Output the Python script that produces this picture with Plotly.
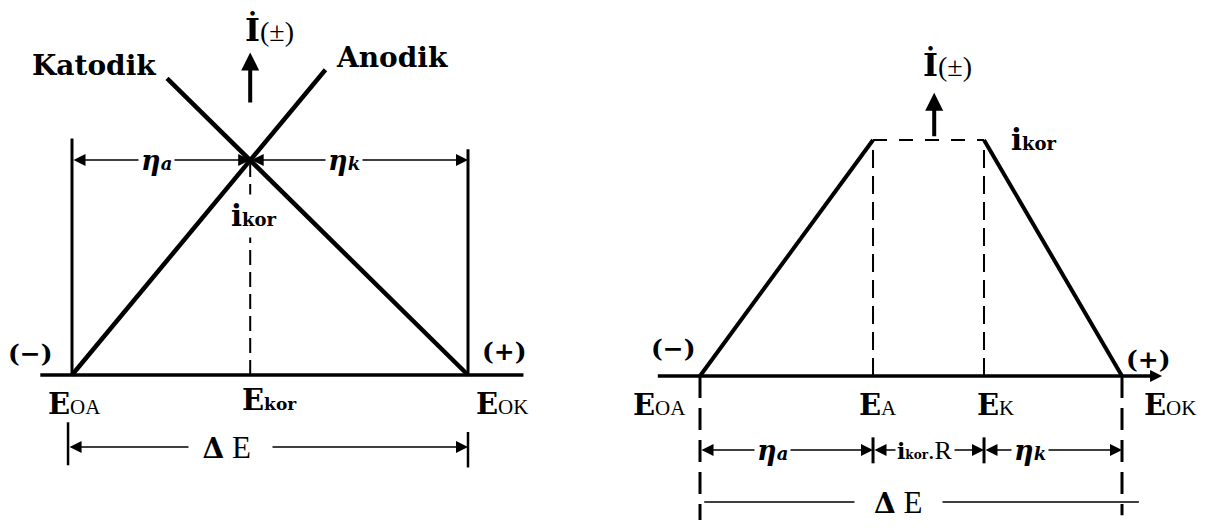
import plotly.graph_objects as go

# ---------------- data (arbitrary units) ----------------
# Left diagram: potential scaled so that E_OA = 0 and E_OK = 100, current in units of i_kor
left_E_names = ["E_OA", "E_kor", "E_OK"]
left_E = [0, 45, 100]
left_i_kor = 1.0
left_anodic_E = [0, 64]
left_anodic_i = [0, 1.42]
left_cathodic_E = [100, 24]
left_cathodic_i = [0, 1.38]
left_axis_E = [-8, 114]
left_bar_i = [1.10, 1.05]          # heights of the limit lines at E_OA and E_OK
left_eta_i = 1.0                    # level of the eta dimension line
left_dE_i = -0.335                  # level of the Delta E dimension line
left_dE_tick_i = [[-0.22, -0.42], [-0.265, -0.43]]
left_current_arrow_i = [1.26, 1.50]

# Right diagram: potential scaled so that E_OA = 0 and E_OK = 100, current in units of i_kor
right_E_names = ["E_OA", "E_A", "E_K", "E_OK"]
right_E = [0, 41, 67.3, 100]
right_i_kor = 1.0
right_axis_E = [-10, 109.5]
right_drop_i = [-0.64, -0.59]       # dashed extensions below the axis at E_OA and E_OK
right_eta_i = -0.314
right_eta_tick_i = [-0.26, -0.37]
right_dE_i = -0.534
right_dE_end_E = 104
right_current_arrow_E = 55.5
right_current_arrow_i = [1.01, 1.20]

# ---------------- figure geometry ----------------
W, H, OFF = 1205, 512, 8            # body margin of the html page is 8 px


def rng(p0, scale, lo_px, hi_px):
    """axis range so that a data value v sits at page pixel p0 + scale*v"""
    return [(lo_px - p0) / scale, (hi_px - p0) / scale]


LX = rng(72, 3.96, OFF, OFF + W)
LY = rng(375, -215, OFF + H, OFF)
RX = rng(700, 4.22, OFF, OFF + W)
RY = rng(376, -236, OFF + H, OFF)

FONT = "Liberation Serif, Times New Roman, DejaVu Serif, serif"
fig = go.Figure()


def seg(xs, ys, w=3, dash=None, side="L"):
    ax = dict(xaxis="x", yaxis="y") if side == "L" else dict(xaxis="x2", yaxis="y2")
    fig.add_trace(go.Scatter(x=xs, y=ys, mode="lines", hoverinfo="skip", showlegend=False,
                             line=dict(color="black", width=w, dash=dash), **ax))


anns = []


def arrow(side, x0, y0, x1, y1, w=1.5, size=1.6, both=True, head=2):
    xr, yr = ("x", "y") if side == "L" else ("x2", "y2")
    anns.append(dict(xref=xr, yref=yr, axref=xr, ayref=yr, x=x1, y=y1, ax=x0, ay=y0,
                     text="", showarrow=True, arrowhead=head, startarrowhead=head,
                     arrowside="end+start" if both else "end",
                     arrowwidth=w, arrowsize=size, startarrowsize=size,
                     arrowcolor="black", standoff=0, startstandoff=0))


def label(side, x, y, text, size=30, xs=0, ys=0, bg=None, pad=1, xanchor="center"):
    xr, yr = ("x", "y") if side == "L" else ("x2", "y2")
    d = dict(xref=xr, yref=yr, x=x, y=y, xshift=xs, yshift=ys, text=text, showarrow=False,
             font=dict(family=FONT, size=size, color="black"), xanchor=xanchor, yanchor="middle")
    if bg:
        d.update(bgcolor=bg, borderpad=pad)
    anns.append(d)


def B(t, s, italic=False):
    """bold serif run (DejaVu Serif carries a real bold face)"""
    st = f"font-family:DejaVu Serif;font-weight:bold;font-size:{s}px"
    if italic:
        st += ";font-style:italic"
    return f"<span style='{st}'>{t}</span>"


def R(t, s):
    return f"<span style='font-size:{s}px'>{t}</span>"


# ---------------- left diagram ----------------
E_OA, E_kor, E_OK = left_E
seg([E_kor, E_kor], [0, left_i_kor], w=2, dash="15px,7px")
seg(left_axis_E, [0, 0], w=3.5)
seg([E_OA, E_OA], [0, left_bar_i[0]], w=3)
seg([E_OK, E_OK], [0, left_bar_i[1]], w=3)
seg(left_anodic_E, left_anodic_i, w=4.5)
seg(left_cathodic_E, left_cathodic_i, w=4.5)
seg([E_OA - 1, E_OA - 1], left_dE_tick_i[0], w=2.5)
seg([E_OK, E_OK], left_dE_tick_i[1], w=2.5)

arrow("L", E_OA, left_eta_i, E_kor, left_eta_i)
arrow("L", E_kor, left_eta_i, E_OK, left_eta_i)
arrow("L", E_OA - 1, left_dE_i, E_OK, left_dE_i)
arrow("L", E_kor, left_current_arrow_i[0], E_kor, left_current_arrow_i[1], w=4, size=0.9, both=False)

label("L", E_kor, 1.5, B("İ", 32) + R("(±)", 28), size=30, xs=19, ys=23)
label("L", 24, 1.38, B("Katodik", 28), xs=-73, ys=13)
label("L", 64, 1.42, B("Anodik", 28), xs=67, ys=12)
label("L", (E_OA + E_kor) / 2, left_eta_i, B("η", 27, True) + B("a", 18, True),
      xs=-5, bg="white", pad=2)
label("L", (E_kor + E_OK) / 2, left_eta_i, B("η", 27, True) + B("k", 18, True),
      xs=-15, bg="white", pad=2)
label("L", E_kor, 0.74, B("i", 29) + B("kor", 18), xs=4, bg="white", pad=4)
label("L", E_OA, 0, B("(−)", 25), xs=-42, ys=22)
label("L", E_OK, 0, B("(+)", 25), xs=36, ys=24)
label("L", E_OA, 0, B("E", 29) + R("OA", 21), xs=2, ys=-29)
label("L", E_kor, 0, B("E", 29) + B("kor", 17), xs=19, ys=-25)
label("L", E_OK, 0, B("E", 29) + R("OK", 21), xs=34, ys=-29)
label("L", 40, left_dE_i, "&nbsp;" + B("Δ", 28) + R(" E&nbsp;&nbsp;", 31), bg="white", pad=6)

# ---------------- right diagram ----------------
R_OA, R_A, R_K, R_OK = right_E
seg([R_A, R_A], [0, right_i_kor], w=2, dash="18px,8px", side="R")
seg([R_K, R_K], [0, right_i_kor], w=2, dash="18px,8px", side="R")
seg([R_A, R_K], [right_i_kor, right_i_kor], w=2, dash="14px,12px", side="R")
seg([R_OA, R_OA], [0, right_drop_i[0]], w=3, dash="22px,10px", side="R")
seg([R_OK, R_OK], [0, right_drop_i[1]], w=3, dash="22px,10px", side="R")
seg([R_A, R_A], right_eta_tick_i, w=3, side="R")
seg([R_K, R_K], right_eta_tick_i, w=3, side="R")
seg([R_OA + 1, right_dE_end_E], [right_dE_i, right_dE_i], w=1.5, side="R")
seg([R_OA, R_A], [0, right_i_kor], w=4, side="R")
seg([R_K, R_OK], [right_i_kor, 0], w=4, side="R")
seg([right_axis_E[0], right_axis_E[1] - 2], [0, 0], w=3.5, side="R")
arrow("R", right_axis_E[1] - 3, 0, right_axis_E[1], 0, w=2, size=1.2, both=False)

arrow("R", R_OA, right_eta_i, R_A, right_eta_i)
arrow("R", R_A, right_eta_i, R_K, right_eta_i)
arrow("R", R_K, right_eta_i, R_OK, right_eta_i)
arrow("R", right_current_arrow_E, right_current_arrow_i[0], right_current_arrow_E,
      right_current_arrow_i[1], w=4, size=0.9, both=False)

label("R", right_current_arrow_E, right_current_arrow_i[1], B("İ", 32) + R("(±)", 28),
      xs=13, ys=28)
label("R", R_K, right_i_kor, B("i", 29) + B("kor", 18), xs=50, ys=0)
label("R", R_OA, 0, B("(−)", 25), xs=-27, ys=28)
label("R", R_OK, 0, B("(+)", 25), xs=26, ys=17)
label("R", R_OA, 0, B("E", 29) + R("OA", 21), xs=-41, ys=-29)
label("R", R_A, 0, B("E", 29) + R("A", 21), xs=5, ys=-29)
label("R", R_K, 0, B("E", 29) + R("K", 21), xs=11, ys=-29)
label("R", R_OK, 0, B("E", 29) + R("OK", 21), xs=48, ys=-29)
label("R", (R_OA + R_A) / 2, right_eta_i, B("η", 27, True) + B("a", 18, True),
      xs=-14, bg="white", pad=2)
label("R", (R_A + R_K) / 2, right_eta_i, B("i", 22) + B("kor", 12) + R(".R", 26),
      xs=-4, bg="white", pad=1)
label("R", (R_K + R_OK) / 2, right_eta_i, B("η", 27, True) + B("k", 18, True),
      xs=-23, bg="white", pad=2)
label("R", 47, right_dE_i, "&nbsp;&nbsp;" + B("Δ", 28) + R(" E&nbsp;&nbsp;", 31), bg="white", pad=4)

axis_off = dict(visible=False, showgrid=False, zeroline=False, fixedrange=True)
fig.update_layout(
    width=W, height=H, margin=dict(l=0, r=0, t=0, b=0),
    paper_bgcolor="white", plot_bgcolor="white", showlegend=False,
    xaxis=dict(range=LX, domain=[0, 1], anchor="y", **axis_off),
    yaxis=dict(range=LY, domain=[0, 1], anchor="x", **axis_off),
    xaxis2=dict(range=RX, domain=[0, 1], anchor="y2", overlaying="x", **axis_off),
    yaxis2=dict(range=RY, domain=[0, 1], anchor="x2", overlaying="y", **axis_off),
    annotations=anns,
)
fig.write_html("out.html")
